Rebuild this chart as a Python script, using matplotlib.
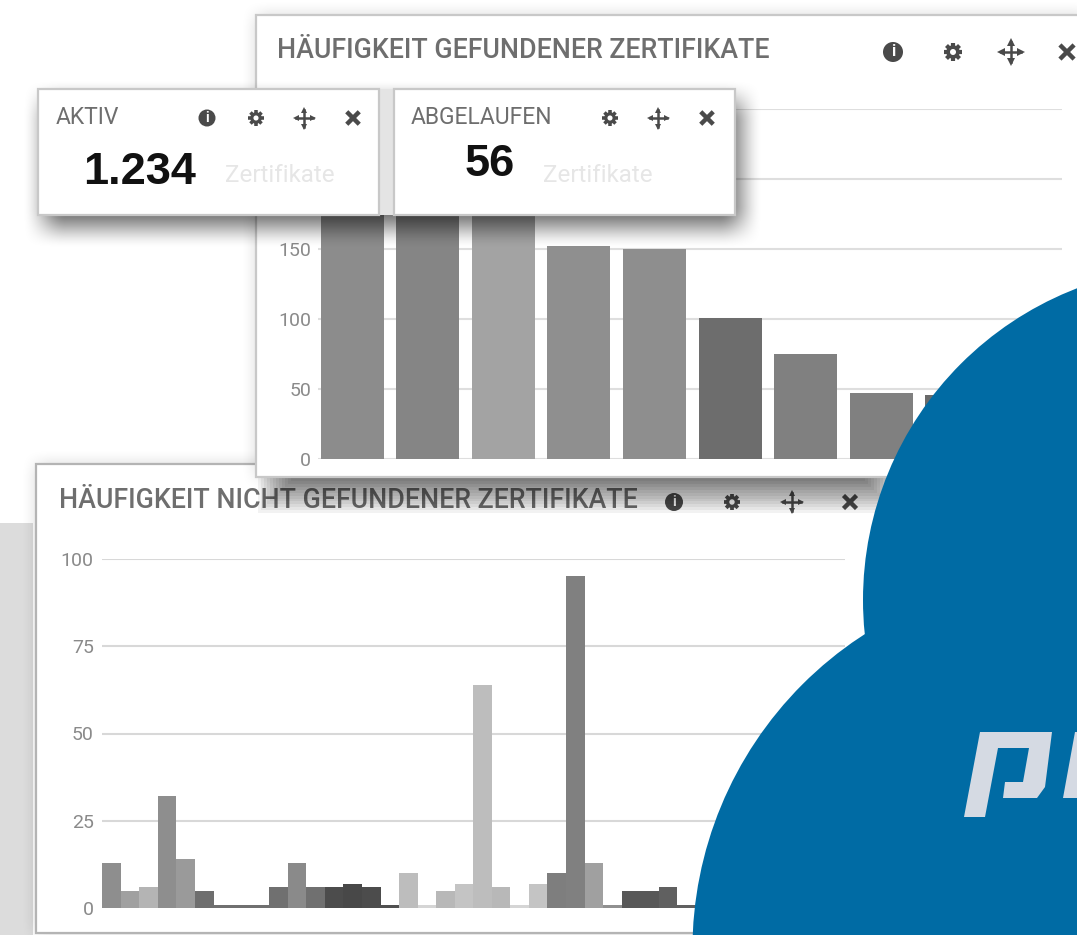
import matplotlib
matplotlib.use("Agg")
import matplotlib.pyplot as plt
import numpy as np
from matplotlib.patches import Rectangle, Circle, Polygon

plt.rcParams['font.family'] = ['Roboto', 'DejaVu Sans']

W, H = 1077, 935

top_values = [215, 205, 195, 152, 150, 101, 75, 47, 46]
top_grays = ['#8c8c8c', '#858585', '#a3a3a3', '#8f8f8f', '#8e8e8e',
             '#6d6d6d', '#808080', '#808080', '#6a6a6a']
top_ticks = [0, 50, 100, 150, 200, 250]
top_ticklabels = ['0', '50', '100', '150', '', '']

bottom_values = [13, 5, 6, 32, 14, 5, 1, 1, 1, 6, 13, 6, 6, 7, 6, 1,
                 10, 1, 5, 7, 64, 6, 1, 7, 10, 95, 13, 1, 5, 5, 6, 1]
bottom_grays = ['#8e8e8e', '#a0a0a0', '#b4b4b4', '#8e8e8e', '#9a9a9a', '#6e6e6e',
                '#707070', '#707070', '#707070', '#707070', '#8a8a8a', '#707070',
                '#4c4c4c', '#484848', '#4c4c4c', '#505050',
                '#bdbdbd', '#d5d5d5', '#b8b8b8', '#c4c4c4', '#bdbdbd', '#b8b8b8',
                '#d5d5d5', '#c4c4c4', '#7e7e7e', '#808080', '#a0a0a0', '#909090',
                '#585858', '#585858', '#606060', '#606060']
bottom_ticks = [0, 25, 50, 75, 100]

DARK = '#4a4a4a'
fig = plt.figure(figsize=(W / 100, H / 100), dpi=100)


def layer(z):
    ax = fig.add_axes([0, 0, 1, 1], zorder=z)
    ax.set_xlim(0, W)
    ax.set_ylim(H, 0)
    ax.axis('off')
    ax.patch.set_alpha(0)
    return ax


def soft_edge(v, a, b, blur):
    t = np.clip((v - a + blur) / (2 * blur), 0, 1) * np.clip((b - v + blur) / (2 * blur), 0, 1)
    return t * t * (3 - 2 * t)


def shadow(ax, x, y, w, h, blur, alpha, dx=0, dy=0):
    # box shadow as an image, soft on every side
    sx = soft_edge(np.arange(W) + 0.5, x + dx, x + w + dx, blur)
    sy = soft_edge(np.arange(H) + 0.5, y + dy, y + h + dy, blur)
    img = np.zeros((H, W, 4))
    img[..., 3] = alpha * np.outer(sy, sx)
    ax.imshow(img, extent=(0, W, H, 0), aspect='auto', interpolation='bilinear', zorder=0)
    ax.set_xlim(0, W)
    ax.set_ylim(H, 0)


def panel(ax, x, y, w, h, edge='#c8c8c8'):
    ax.add_patch(Rectangle((x, y), w, h, fc='white', ec=edge, lw=1.6, zorder=1))


def icons(ax, xs, y, r=10, info=True):
    if info:
        ax.add_patch(Circle((xs[0], y), r, fc=DARK, ec='none', zorder=3))
        ax.text(xs[0], y, 'i', fontsize=r * 1.15, fontweight='bold', ha='center', va='center',
                color='white', zorder=4)
        xs = xs[1:]
    # gear
    for a in np.arange(4) * np.pi / 4:
        ox, oy = r * 0.92 * np.cos(a), r * 0.92 * np.sin(a)
        ax.plot([xs[0] - ox, xs[0] + ox], [y - oy, y + oy], color=DARK, lw=r * 0.3,
                solid_capstyle='butt', zorder=3)
    ax.add_patch(Circle((xs[0], y), r * 0.68, fc=DARK, ec='none', zorder=3))
    ax.add_patch(Circle((xs[0], y), r * 0.3, fc='white', ec='none', zorder=4))
    # move arrows
    ax.plot([xs[1] - r, xs[1] + r], [y, y], color=DARK, lw=1.8, zorder=3)
    ax.plot([xs[1], xs[1]], [y - r, y + r], color=DARK, lw=1.8, zorder=3)
    for m, ox, oy in [('<', -r, 0), ('>', r, 0), ('^', 0, -r), ('v', 0, r)]:
        ax.plot([xs[1] + ox], [y + oy], marker=m, ms=r * 0.55, color=DARK, mew=0, zorder=3)
    # close
    k = r * 0.55
    ax.plot([xs[2] - k, xs[2] + k], [y - k, y + k], color=DARK, lw=3.2, zorder=3)
    ax.plot([xs[2] - k, xs[2] + k], [y + k, y - k], color=DARK, lw=3.2, zorder=3)


def chart(left, right, y_zero, y_top, top_val, values, grays, ticks, labels,
          first, step, width, z, pad, grid):
    ax = fig.add_axes([left / W, 1 - y_zero / H, (right - left) / W, (y_zero - y_top) / H], zorder=z)
    ax.set_ylim(0, top_val)
    ax.set_xlim((left - first) / step, (right - first) / step)
    ax.patch.set_alpha(0)
    ax.set_axisbelow(True)
    ax.grid(axis='y', color=grid, lw=1.5)
    ax.bar(range(len(values)), values, width=width / step, color=grays, zorder=3)
    ax.set_yticks(ticks, labels)
    ax.set_xticks([])
    ax.tick_params(axis='y', length=0, pad=pad, labelsize=14, labelcolor='#8a8a8a')
    for s in ax.spines.values():
        s.set_visible(False)
    return ax


# bottom panel with the page strip behind it
back = layer(1)
back.add_patch(Rectangle((0, 523), 33, 412, fc='#dcdcdc', ec='none', zorder=0))
shadow(back, 36, 464, 1060, 469, 16, 0.16)
panel(back, 36, 464, 1060, 469, edge='#b4b4b4')
back.text(59, 501, 'HÄUFIGKEIT NICHT GEFUNDENER ZERTIFIKATE', fontsize=19.3, fontweight='medium',
          color='#6e6e6e', va='center', zorder=3)
icons(back, [674, 732, 792, 850], 502, r=9)
ax_bottom = chart(102, 845, 908, 559, 100, bottom_values, bottom_grays, bottom_ticks,
                  [str(t) for t in bottom_ticks], 111.5, 18.55, 18.6, 2, 6, '#d8d8d8')

# top panel sits above the bottom one and throws a shadow on it
mid = layer(3)
shadow(mid, 256, 15, 830, 462, 16, 0.16)
for k in range(12):
    mid.add_patch(Rectangle((258 + k * 3, 477), 640 - k * 6, 36 - k * 2.9,
                            fc='black', ec='none', alpha=0.05, zorder=0.5))
panel(mid, 256, 15, 830, 462)
mid.text(277, 51, 'HÄUFIGKEIT GEFUNDENER ZERTIFIKATE', fontsize=19.3, fontweight='medium',
         color='#6e6e6e', va='center', zorder=3)
icons(mid, [893, 953, 1011, 1067], 52)
ax_top = chart(318, 1062, 459, 109, 250, top_values, top_grays, top_ticks, top_ticklabels,
               352, 75.6, 63, 4, 5, '#dedede')

# small cards and the cloud on top of both charts
front = layer(5)
shadow(front, 38, 89, 697, 126, 22, 0.6, dx=6, dy=12)
front.add_patch(Rectangle((379, 89), 15, 126, fc='#e4e4e4', ec='none', zorder=1))
panel(front, 38, 89, 341, 126)
panel(front, 394, 89, 341, 126)
front.text(56, 118, 'AKTIV', fontsize=16.5, color='#6e6e6e', va='center', zorder=3)
icons(front, [207, 256, 304, 353], 118, r=8.5)
front.text(140, 172, '1.234', fontsize=32.5, fontweight='bold', family=['Liberation Sans'],
           color='#111111', ha='center', va='center', zorder=3)
front.text(280, 175, 'Zertifikate', fontsize=17.4, color='#e6e6e6', ha='center', va='center', zorder=3)
front.text(411, 118, 'ABGELAUFEN', fontsize=16.5, color='#6e6e6e', va='center', zorder=3)
icons(front, [610, 658, 707], 118, r=8.5, info=False)
front.text(490, 165, '56', fontsize=32.5, fontweight='bold', family=['Liberation Sans'],
           color='#111111', ha='center', va='center', zorder=3)
front.text(598, 175, 'Zertifikate', fontsize=17.4, color='#e6e6e6', ha='center', va='center', zorder=3)

blue = '#006ba4'
front.add_patch(Circle((1197, 600), 334, fc=blue, ec='none', zorder=10))
front.add_patch(Circle((1068, 950), 375.6, fc=blue, ec='none', zorder=10))

# logo, first letter and the start of the next one
logo = '#d5dae3'
front.add_patch(Polygon([(980, 732), (1052, 732), (1045, 787), (1037, 798), (1003, 798), (1005, 782),
                         (1023, 782), (1029, 748), (998, 748), (985, 817), (964, 817)],
                        fc=logo, ec='none', zorder=11))
front.add_patch(Polygon([(1063, 798), (1075, 732), (1077, 732), (1077, 798)],
                        fc=logo, ec='none', zorder=11))

fig.savefig('out.png', dpi=100)
